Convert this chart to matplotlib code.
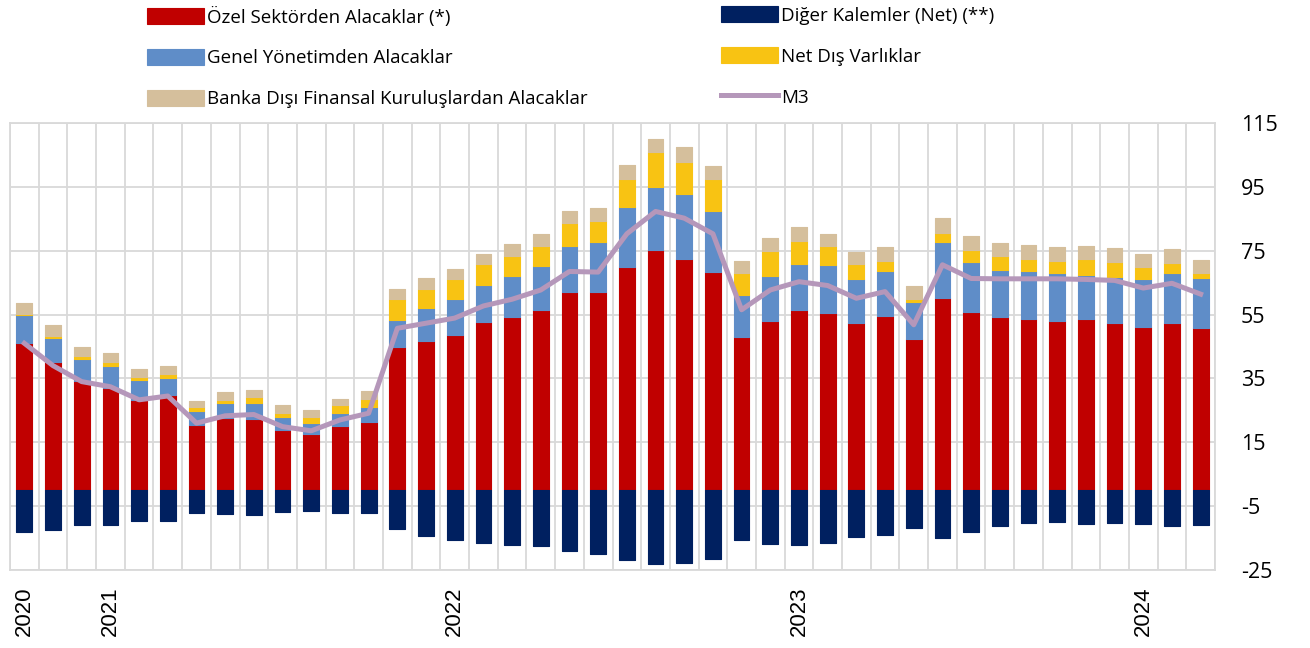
import numpy as np
import matplotlib
matplotlib.use("Agg")
import matplotlib.pyplot as plt

plt.rcParams["axes.unicode_minus"] = False

# components (percentage points)
ozel = [46.0, 40.1, 34.3, 31.9, 28.3, 29.8, 20.4, 22.5, 22.2, 18.7, 17.6, 20.1, 21.5,
        45.0, 46.8, 48.5, 52.8, 54.2, 56.3, 62.0, 62.2, 70.0, 75.3, 72.5, 68.3, 47.9,
        53.0, 56.5, 55.4, 52.5, 54.4, 47.3, 60.3, 55.9, 54.2, 53.6, 53.1, 53.6, 52.3,
        51.2, 52.3, 50.7]
genel = [8.8, 7.7, 6.9, 7.1, 6.2, 5.3, 4.5, 4.7, 5.2, 4.1, 3.4, 4.0, 4.5,
         8.3, 10.2, 11.4, 11.5, 13.0, 14.0, 14.6, 15.5, 18.6, 19.8, 20.3, 19.2, 13.1,
         14.2, 14.3, 15.1, 13.6, 14.3, 11.5, 17.3, 15.7, 14.8, 14.9, 14.9, 13.8, 14.4,
         14.9, 15.7, 15.7]
net_dis = [0.4, 0.5, 0.9, 1.3, 1.1, 1.2, 1.0, 1.1, 1.7, 1.5, 1.8, 2.6, 2.5,
           6.5, 6.1, 6.2, 6.6, 6.2, 6.2, 7.0, 6.7, 8.8, 10.7, 9.9, 9.9, 7.0,
           7.6, 7.3, 5.9, 4.7, 3.2, 1.2, 2.9, 3.7, 4.2, 3.9, 3.9, 5.0, 4.9,
           3.9, 3.1, 1.6]
banka_disi = [3.4, 3.4, 2.7, 2.6, 2.3, 2.6, 2.0, 2.5, 2.2, 2.4, 2.3, 2.0, 2.6,
              3.3, 3.3, 3.1, 3.2, 3.6, 3.8, 3.9, 3.9, 4.5, 4.3, 4.7, 4.2, 3.7,
              4.2, 4.4, 3.9, 3.9, 4.4, 3.8, 4.7, 4.4, 4.2, 4.3, 4.3, 4.1, 4.4,
              4.0, 4.3, 4.1]
diger = [-13.0, -12.5, -11.0, -11.0, -9.8, -9.5, -7.0, -7.6, -7.9, -6.8, -6.6, -7.0, -7.3,
         -12.3, -14.3, -15.5, -16.5, -17.2, -17.5, -19.2, -20.1, -21.8, -23.2, -22.8, -21.6, -15.7,
         -16.9, -17.2, -16.5, -14.8, -14.0, -11.8, -14.9, -13.2, -11.1, -10.4, -9.9, -10.5, -10.4,
         -10.7, -11.1, -10.9]
m3 = [46.0, 39.0, 34.0, 32.4, 28.3, 29.5, 21.0, 23.3, 23.7, 19.9, 18.6, 22.0, 24.1,
      50.7, 52.3, 53.9, 57.7, 59.8, 62.7, 68.5, 68.3, 80.3, 87.3, 85.2, 80.3, 56.5,
      62.7, 65.3, 64.1, 60.1, 62.2, 51.8, 70.6, 66.3, 66.2, 66.2, 66.2, 66.0, 65.7,
      63.3, 64.8, 61.4]

year_pos = [0, 3, 15, 27, 39]
year_labels = ["2020", "2021", "2022", "2023", "2024"]

c_red = "#C00000"
c_blue = "#5F8DC8"
c_yel = "#F8C313"
c_tan = "#D5BF9C"
c_navy = "#002060"
c_m3 = "#B597BA"
c_grid = "#D9D9D9"

x = np.arange(len(ozel))
ozel = np.array(ozel)
genel = np.array(genel)
net_dis = np.array(net_dis)
banka_disi = np.array(banka_disi)

fig = plt.figure(figsize=(13.1, 6.48), dpi=100)
ax = fig.add_axes([10 / 1310, 78 / 648, 1205 / 1310, 447 / 648])

w = 0.55
kw = dict(width=w, linewidth=0.8, joinstyle="round", zorder=3)
b_red = ax.bar(x, ozel, color=c_red, edgecolor=c_red, **kw)
b_blue = ax.bar(x, genel, bottom=ozel, color=c_blue, edgecolor=c_blue, **kw)
b_yel = ax.bar(x, net_dis, bottom=ozel + genel, color=c_yel, edgecolor=c_yel, **kw)
b_tan = ax.bar(x, banka_disi, bottom=ozel + genel + net_dis, color=c_tan, edgecolor=c_tan, **kw)
b_navy = ax.bar(x, diger, color=c_navy, edgecolor=c_navy, **kw)
l_m3, = ax.plot(x, m3, color=c_m3, lw=3.6, zorder=4, solid_joinstyle="round")

ax.set_xlim(-0.5, len(x) - 0.5)
ax.set_ylim(-25, 115)
ax.set_yticks(np.arange(-25, 116, 20))
ax.set_xticks(np.arange(-0.5, len(x), 1), minor=True)
ax.set_xticks(year_pos)
ax.set_xticklabels(year_labels, rotation=90, family="Liberation Sans", fontsize=16, va="top")
ax.yaxis.tick_right()
ax.tick_params(axis="y", length=0, pad=18.5, labelsize=15.5)
ax.tick_params(axis="x", which="both", length=0, pad=12)
for lab in ax.get_yticklabels():
    lab.set_family("Open Sans")
ax.grid(axis="y", which="major", color=c_grid, lw=1.3, zorder=0)
ax.grid(axis="x", which="minor", color=c_grid, lw=1.3, zorder=0)
ax.grid(axis="x", which="major", visible=False)
for s in ax.spines.values():
    s.set_color(c_grid)
    s.set_linewidth(1.3)
ax.set_axisbelow(True)

leg_kw = dict(frameon=False, borderpad=0, borderaxespad=0, handlelength=3.04,
              handleheight=0.92, handletextpad=0.15, labelspacing=1.2, loc="upper left",
              prop={"family": "Open Sans", "size": 13.5})
fig.legend([b_red, b_blue, b_tan],
           ["Özel Sektörden Alacaklar (*)", "Genel Yönetimden Alacaklar",
            "Banka Dışı Finansal Kuruluşlardan Alacaklar"],
           bbox_to_anchor=(147 / 1310, 1 - 6.5 / 648), **leg_kw)
fig.legend([b_navy, b_yel, l_m3],
           ["Diğer Kalemler (Net) (**)", "Net Dış Varlıklar", "M3"],
           bbox_to_anchor=(721 / 1310, 1 - 6.5 / 648), **leg_kw)

fig.savefig("out.png", dpi=100)
